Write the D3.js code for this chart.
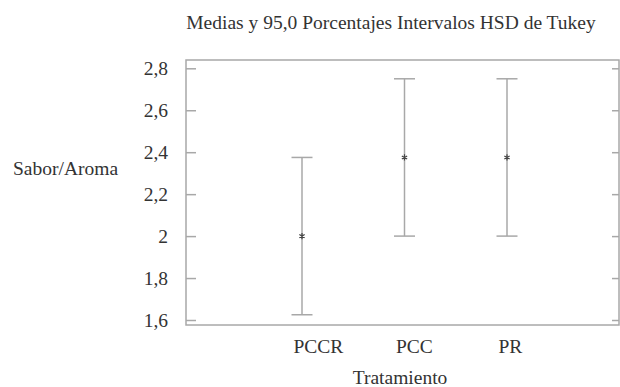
<!DOCTYPE html>
<html><head><meta charset="utf-8">
<script src="https://cdn.jsdelivr.net/npm/d3@7"></script>
<style>
html,body{margin:0;padding:0;background:#fff;}
svg text{font-family:'Liberation Serif','Times New Roman','DejaVu Serif',serif !important;fill:#333;}
</style></head>
<body><svg id="c" width="620" height="387"></svg>
<script>
const categories = ["PCCR", "PCC", "PR"];
const means = [2.0, 2.375, 2.375];
const lower = [1.625, 2.0, 2.0];
const upper = [2.375, 2.75, 2.75];
const yTicks = [1.6, 1.8, 2.0, 2.2, 2.4, 2.6, 2.8];
const yTickLabels = ["1,6", "1,8", "2", "2,2", "2,4", "2,6", "2,8"];
const title = "Medias y 95,0 Porcentajes Intervalos HSD de Tukey";
const xTitle = "Tratamiento";
const yTitle = "Sabor/Aroma";

const svg = d3.select("#c");
const frame = {left: 186, right: 619, top: 60, bottom: 325};
const fs = 19.5;
const lineCol = "#a8a8a8";
const FONT = "'Liberation Serif','Times New Roman','DejaVu Serif',serif";

const x = d3.scalePoint().domain(categories).range([302, 507]);
const y = d3.scaleLinear().domain([1.6, 2.8]).range([320, 68.3]);

svg.append("rect").attr("x", frame.left).attr("y", frame.top)
  .attr("width", frame.right - frame.left).attr("height", frame.bottom - frame.top)
  .attr("fill", "none").attr("stroke", lineCol).attr("stroke-width", 1.5);

const yl = svg.append("g").attr("transform", `translate(${frame.left},0)`)
  .call(d3.axisLeft(y).tickValues(yTicks).tickFormat((d, i) => yTickLabels[i])
    .tickSizeInner(-10).tickSizeOuter(0).tickPadding(18));
yl.attr("font-family", null).attr("font-size", null);
yl.select(".domain").remove();
yl.selectAll("line").attr("stroke", lineCol).attr("stroke-width", 1.5);
yl.selectAll("text").style("font-size", fs + "px").style("font-family", FONT).attr("fill", "#333");

const yr = svg.append("g").attr("transform", `translate(${frame.right},0)`)
  .call(d3.axisRight(y).tickValues(yTicks).tickFormat("").tickSizeInner(-7).tickSizeOuter(0));
yr.select(".domain").remove();
yr.selectAll("line").attr("stroke", lineCol).attr("stroke-width", 1.5);

const xb = svg.append("g").attr("transform", `translate(0,${frame.bottom})`)
  .call(d3.axisBottom(x).tickSize(0).tickPadding(14));
xb.attr("font-family", null).attr("font-size", null);
xb.select(".domain").remove();
xb.selectAll("text").style("font-size", fs + "px").style("font-family", FONT)
  .attr("fill", "#333").attr("text-anchor", "start").attr("dx", -9);

const data = categories.map((c, i) => ({c, m: means[i], lo: lower[i], hi: upper[i]}));
const g = svg.append("g");
const capW = 10.5;
data.forEach(d => {
  const cx = x(d.c);
  g.append("line").attr("x1", cx).attr("x2", cx).attr("y1", y(d.hi)).attr("y2", y(d.lo))
    .attr("stroke", lineCol).attr("stroke-width", 1.5);
  [d.hi, d.lo].forEach(v => {
    g.append("line").attr("x1", cx - capW).attr("x2", cx + capW).attr("y1", y(v)).attr("y2", y(v))
      .attr("stroke", lineCol).attr("stroke-width", 1.5);
  });
  g.append("path").attr("d", d3.symbol(d3.symbolAsterisk, 26)())
    .attr("transform", `translate(${cx},${y(d.m)})`)
    .attr("stroke", "#444").attr("stroke-width", 1.2).attr("fill", "none");
});

svg.append("text").attr("x", 391).attr("y", 29).attr("text-anchor", "middle")
  .style("font-size", fs + "px").style("font-family", FONT).text(title);
svg.append("text").attr("x", 400).attr("y", 384).attr("text-anchor", "middle")
  .style("font-size", fs + "px").style("font-family", FONT).text(xTitle);
svg.append("text").attr("x", 13).attr("y", 175).attr("text-anchor", "start")
  .style("font-size", fs + "px").style("font-family", FONT).text(yTitle);
</script></body></html>
